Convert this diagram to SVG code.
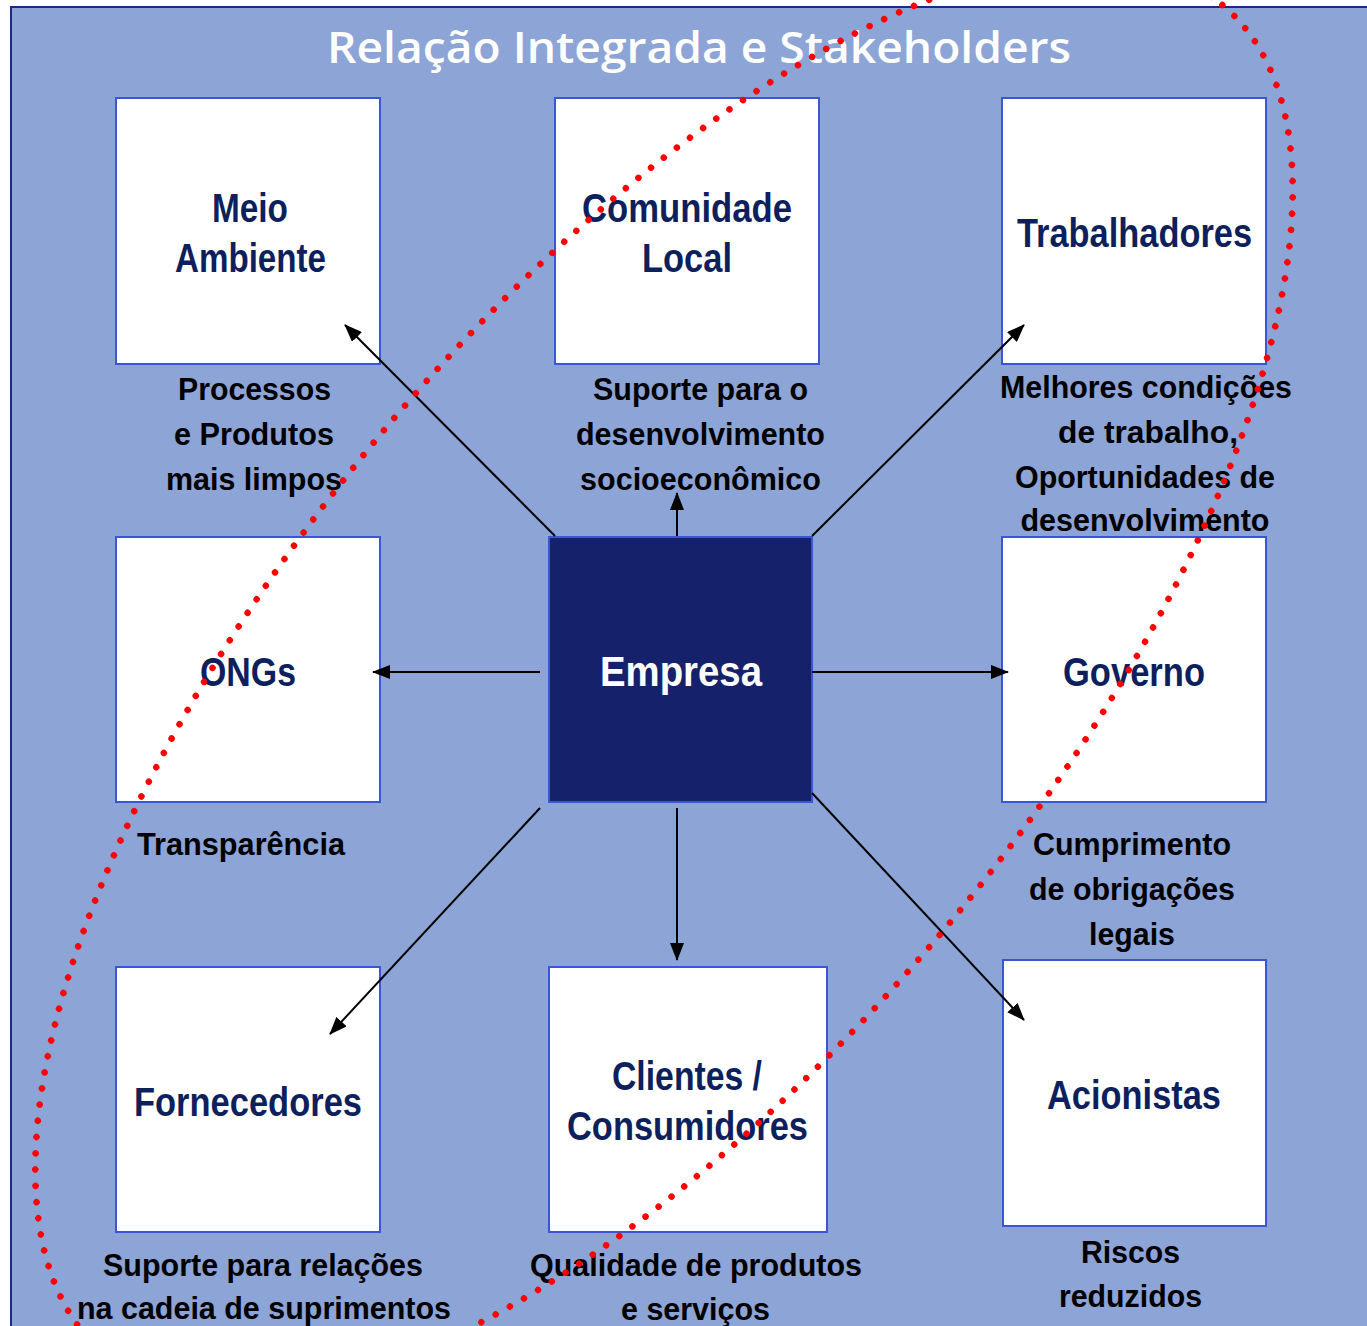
<svg xmlns="http://www.w3.org/2000/svg" width="1367" height="1326" viewBox="0 0 1367 1326">
  <style>
    .box { fill: #ffffff; stroke: #3A55D8; stroke-width: 2; }
    .core { fill: #16216B; stroke: #3A55D8; stroke-width: 2; }
    .node { font-family: "Liberation Sans Narrow", "Liberation Sans", Arial, sans-serif; font-weight: bold; font-size: 41px; fill: #0D1F5C; text-anchor: middle; }
    .nodew { fill: #ffffff; font-size: 43px; }
    .cap { font-family: "Liberation Sans", Arial, sans-serif; font-weight: bold; font-size: 31px; fill: #000000; text-anchor: middle; }
    .title { font-family: "Open Sans", "Noto Sans", sans-serif; font-weight: 600; font-size: 44px; fill: #ffffff; }
    .conn { stroke: #000000; stroke-width: 2; fill: none; marker-end: url(#arr); }
    .ring { fill: none; stroke: #FF0000; stroke-width: 6.5; stroke-linecap: round; stroke-dasharray: 0 16.3; }
  </style>
  <defs>
    <marker id="arr" viewBox="0 0 18 14" refX="17" refY="7" markerWidth="18" markerHeight="14" markerUnits="userSpaceOnUse" orient="auto">
      <path d="M0,0 L18,7 L0,14 z" fill="#000000"/>
    </marker>
  </defs>

  <rect x="0" y="0" width="1367" height="1326" fill="#ffffff"/>
  <rect id="background" x="11" y="7" width="1400" height="1400" fill="#8DA4D6" stroke="#1A2B82" stroke-width="2"/>

  <text class="title" x="327" y="63" textLength="744" lengthAdjust="spacingAndGlyphs">Relação Integrada e Stakeholders</text>

  <g id="node-meio-ambiente">
    <rect class="box" x="116" y="98" width="264" height="266"/>
    <text class="node" x="250" y="222" textLength="76" lengthAdjust="spacingAndGlyphs">Meio</text>
    <text class="node" x="250.5" y="272" textLength="151" lengthAdjust="spacingAndGlyphs">Ambiente</text>
    <text class="cap" x="254.5" y="400" textLength="153" lengthAdjust="spacingAndGlyphs">Processos</text>
    <text class="cap" x="254" y="445" textLength="160" lengthAdjust="spacingAndGlyphs">e Produtos</text>
    <text class="cap" x="254" y="490" textLength="176" lengthAdjust="spacingAndGlyphs">mais limpos</text>
  </g>

  <g id="node-comunidade-local">
    <rect class="box" x="555" y="98" width="264" height="266"/>
    <text class="node" x="687" y="222" textLength="210" lengthAdjust="spacingAndGlyphs">Comunidade</text>
    <text class="node" x="687" y="272" textLength="90" lengthAdjust="spacingAndGlyphs">Local</text>
    <text class="cap" x="700.5" y="400" textLength="215" lengthAdjust="spacingAndGlyphs">Suporte para o</text>
    <text class="cap" x="700.5" y="445" textLength="249" lengthAdjust="spacingAndGlyphs">desenvolvimento</text>
    <text class="cap" x="700.5" y="490" textLength="241" lengthAdjust="spacingAndGlyphs">socioeconômico</text>
  </g>

  <g id="node-trabalhadores">
    <rect class="box" x="1002" y="98" width="264" height="266"/>
    <text class="node" x="1134.5" y="247" textLength="235" lengthAdjust="spacingAndGlyphs">Trabalhadores</text>
    <text class="cap" x="1146" y="398" textLength="292" lengthAdjust="spacingAndGlyphs">Melhores condições</text>
    <text class="cap" x="1148" y="443" textLength="180" lengthAdjust="spacingAndGlyphs">de trabalho,</text>
    <text class="cap" x="1145" y="488" textLength="260" lengthAdjust="spacingAndGlyphs">Oportunidades de</text>
    <text class="cap" x="1145" y="531" textLength="249" lengthAdjust="spacingAndGlyphs">desenvolvimento</text>
  </g>

  <g id="node-ongs">
    <rect class="box" x="116" y="537" width="264" height="265"/>
    <text class="node" x="248" y="686" textLength="96" lengthAdjust="spacingAndGlyphs">ONGs</text>
    <text class="cap" x="241" y="855" textLength="208" lengthAdjust="spacingAndGlyphs">Transparência</text>
  </g>

  <g id="node-empresa">
    <rect class="core" x="549" y="537" width="263" height="265"/>
    <text class="node nodew" x="681" y="686" textLength="162" lengthAdjust="spacingAndGlyphs">Empresa</text>
  </g>

  <g id="node-governo">
    <rect class="box" x="1002" y="537" width="264" height="265"/>
    <text class="node" x="1134" y="686" textLength="142" lengthAdjust="spacingAndGlyphs">Governo</text>
    <text class="cap" x="1132" y="855" textLength="198" lengthAdjust="spacingAndGlyphs">Cumprimento</text>
    <text class="cap" x="1132" y="900" textLength="206" lengthAdjust="spacingAndGlyphs">de obrigações</text>
    <text class="cap" x="1132" y="945" textLength="86" lengthAdjust="spacingAndGlyphs">legais</text>
  </g>

  <g id="node-fornecedores">
    <rect class="box" x="116" y="967" width="264" height="265"/>
    <text class="node" x="248" y="1116" textLength="228" lengthAdjust="spacingAndGlyphs">Fornecedores</text>
    <text class="cap" x="263" y="1276" textLength="320" lengthAdjust="spacingAndGlyphs">Suporte para relações</text>
    <text class="cap" x="264" y="1319" textLength="374" lengthAdjust="spacingAndGlyphs">na cadeia de suprimentos</text>
  </g>

  <g id="node-clientes">
    <rect class="box" x="549" y="967" width="278" height="265"/>
    <text class="node" x="687" y="1090" textLength="150" lengthAdjust="spacingAndGlyphs">Clientes /</text>
    <text class="node" x="687.5" y="1140" textLength="241" lengthAdjust="spacingAndGlyphs">Consumidores</text>
    <text class="cap" x="696" y="1276" textLength="332" lengthAdjust="spacingAndGlyphs">Qualidade de produtos</text>
    <text class="cap" x="695.5" y="1320" textLength="149" lengthAdjust="spacingAndGlyphs">e serviços</text>
  </g>

  <g id="node-acionistas">
    <rect class="box" x="1003" y="960" width="263" height="266"/>
    <text class="node" x="1134" y="1109" textLength="174" lengthAdjust="spacingAndGlyphs">Acionistas</text>
    <text class="cap" x="1130.5" y="1263" textLength="99" lengthAdjust="spacingAndGlyphs">Riscos</text>
    <text class="cap" x="1130.5" y="1307" textLength="143" lengthAdjust="spacingAndGlyphs">reduzidos</text>
  </g>

  <g id="connectors">
    <line class="conn" x1="555" y1="536" x2="345" y2="325"/>
    <line class="conn" x1="677" y1="536" x2="677" y2="493"/>
    <line class="conn" x1="812" y1="536" x2="1024" y2="325"/>
    <line class="conn" x1="540" y1="672" x2="373" y2="672"/>
    <line class="conn" x1="812" y1="672" x2="1008" y2="672"/>
    <line class="conn" x1="540" y1="808" x2="330" y2="1034"/>
    <line class="conn" x1="677" y1="808" x2="677" y2="960"/>
    <line class="conn" x1="812" y1="793" x2="1024" y2="1020"/>
  </g>

  <g id="stakeholder-ring">
    <ellipse class="ring" cx="664" cy="680" rx="876" ry="375" transform="rotate(-50.4 664 680)"/>
  </g>
</svg>
